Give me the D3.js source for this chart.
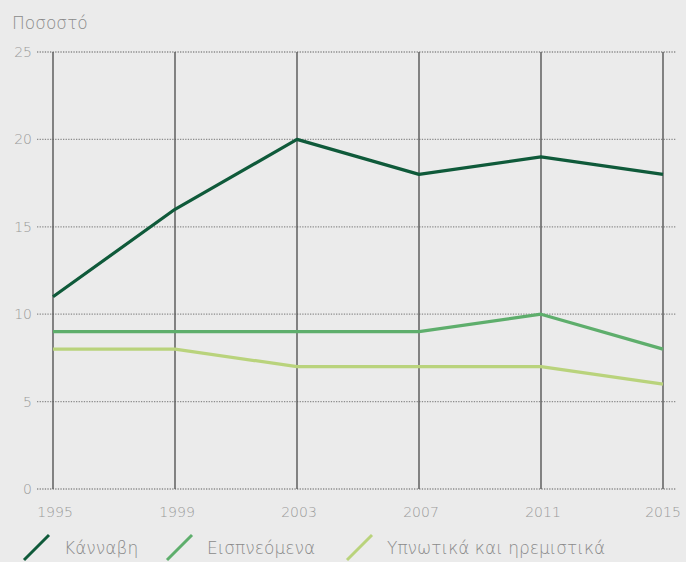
<!DOCTYPE html>
<html>
<head>
<meta charset="utf-8">
<script src="https://cdn.jsdelivr.net/npm/d3@7"></script>
<style>
  body { margin: 0; background: #ebebeb; }
  svg { display: block; font-family: "DejaVu Sans", sans-serif; font-weight: 200; }
</style>
</head>
<body>
<svg id="chart" width="686" height="562"></svg>
<script>
const years = [1995, 1999, 2003, 2007, 2011, 2015]
const yTicks = [0, 5, 10, 15, 20, 25]
const seriesNames = ["Κάνναβη", "Εισπνεόμενα", "Υπνωτικά και ηρεμιστικά"]
const cannabis = [11, 16, 20, 18, 19, 18]
const inhalants = [9, 9, 9, 9, 10, 8]
const sedatives = [8, 8, 7, 7, 7, 6]
const colors = ["#0f5a3a", "#5eae6c", "#b9d37c"]

const svg = d3.select("#chart")
const x = d3.scaleLinear().domain([1995, 2015]).range([53, 663])
const y = d3.scaleLinear().domain([0, 25]).range([489, 52])

// title
svg.append("text").attr("x", 12).attr("y", 29)
	.style("font-size", "17px").style("fill", "#8a8a8a").text("Ποσοστό")

// horizontal dotted grid
svg.append("g").selectAll("line").data(yTicks).enter().append("line")
	.attr("x1", 37).attr("x2", 676)
	.attr("y1", d => y(d)).attr("y2", d => y(d))
	.style("stroke", "#8c8c8c").style("stroke-width", 1.3)
	.style("stroke-dasharray", "1.3,1.3")

svg.append("g").selectAll("text").data(yTicks).enter().append("text")
	.attr("x", 32).attr("y", d => y(d) + 5)
	.attr("text-anchor", "end")
	.style("font-size", "14px").style("fill", "#9a9a9a")
	.text(d => d)

// vertical year lines
svg.append("g").selectAll("line").data(years).enter().append("line")
	.attr("x1", d => x(d)).attr("x2", d => x(d))
	.attr("y1", y(25)).attr("y2", y(0))
	.style("stroke", "#555").style("stroke-width", 1.4)

svg.append("g").selectAll("text").data(years).enter().append("text")
	.attr("x", (d, i) => i == years.length - 1 ? x(d) : x(d) + 2).attr("y", 517)
	.attr("text-anchor", "middle")
	.style("font-size", "14px").style("fill", "#9a9a9a")
	.text(d => d)

// series lines
const line = d3.line().x((d, i) => x(years[i])).y(d => y(d))
const allSeries = [sedatives, inhalants, cannabis]
const seriesColors = [colors[2], colors[1], colors[0]]
svg.append("g").selectAll("path").data(allSeries).enter().append("path")
	.attr("d", d => line(d))
	.style("fill", "none")
	.style("stroke", (d, i) => seriesColors[i])
	.style("stroke-width", 3.2)
	.style("stroke-linejoin", "round")

// legend
const legendX = [22, 165, 345]
const lg = svg.append("g").selectAll("g").data(seriesNames).enter().append("g")
	.attr("transform", (d, i) => `translate(${legendX[i]},0)`)
lg.append("line")
	.attr("x1", 2).attr("y1", 560).attr("x2", 27).attr("y2", 535)
	.style("stroke", (d, i) => colors[i]).style("stroke-width", 3)
lg.append("text").attr("x", 42).attr("y", 554)
	.style("font-size", "17px").style("fill", "#8a8a8a")
	.text(d => d)
</script>
</body>
</html>
